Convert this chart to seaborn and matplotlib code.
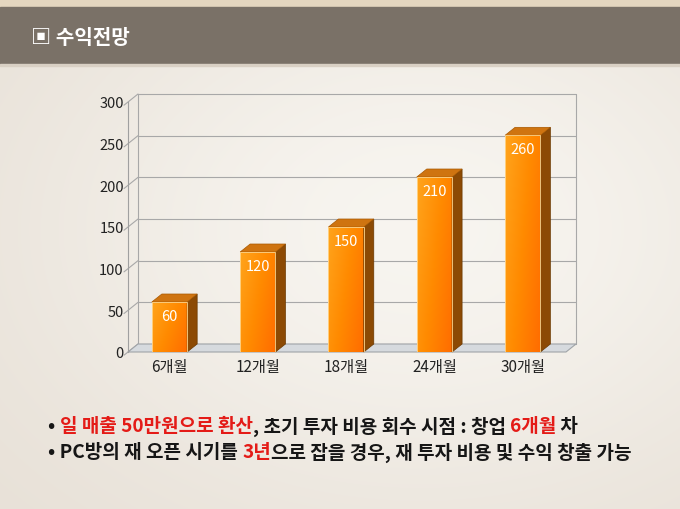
import numpy as np
import pandas as pd
import seaborn as sns
import matplotlib.pyplot as plt
import matplotlib.transforms as mtransforms
from matplotlib.patches import Polygon, Rectangle
from matplotlib.colors import LinearSegmentedColormap

# Chart data
months = ["6개월", "12개월", "18개월", "24개월", "30개월"]
revenue = [60, 120, 150, 210, 260]
y_ticks = [0, 50, 100, 150, 200, 250, 300]

title = "▣ 수익전망"
note1 = [("• ", "k"), ("일 매출 50만원으로 환산", "r"),
         (", 초기 투자 비용 회수 시점 : 창업 ", "k"), ("6개월", "r"), (" 차", "k")]
note2 = [("• PC방의 재 오픈 시기를 ", "k"), ("3년", "r"),
         ("으로 잡을 경우, 재 투자 비용 및 수익 창출 가능", "k")]

sns.set_theme(style="white")
plt.rcParams['font.family'] = ['Noto Sans CJK KR', 'DejaVu Sans']

fig = plt.figure(figsize=(6.8, 5.1), dpi=100)

# slide background
bg = fig.add_axes([0, 0, 1, 1], zorder=-5)
bg.set_xlim(0, 680)
bg.set_ylim(510, 0)
bg.axis("off")
yy, xx = np.mgrid[0:510, 0:680]
shade = np.exp(-(((xx - 420) / 420.0) ** 2 + ((yy - 230) / 300.0) ** 2))
base = np.array([0.90, 0.87, 0.83])
light = np.array([0.97, 0.96, 0.94])
img = base + (light - base) * shade[..., None]
bg.imshow(img, extent=(0, 680, 510, 0), aspect="auto")
bg.add_patch(Rectangle((0, 0), 680, 8, color="#e4d6bf"))
bg.add_patch(Rectangle((0, 8), 680, 57, color="#7a7167"))
bg.add_patch(Rectangle((0, 65), 680, 2, color="#d9d0c4"))
bg.text(31, 38, title, color="white", fontsize=14.5, fontweight="bold",
        va="center", ha="left")

# chart (front plane)
ax = fig.add_axes([128 / 680, 157 / 510, 438 / 680, 250 / 510])
ax.patch.set_alpha(0)
df = pd.DataFrame({"month": months, "revenue": revenue})
sns.barplot(data=df, x="month", y="revenue", ax=ax, width=0.4,
            color="#ff8a00", saturation=1, edgecolor="#ffd890", linewidth=0.6,
            zorder=3)
ax.set_xlim(-0.47, 4.49)
ax.set_ylim(0, 300)
ax.set_yticks(y_ticks)
ax.set_xlabel("")
ax.set_ylabel("")
ax.tick_params(axis="y", labelsize=10.5, colors="#222222", pad=3, length=0)
ax.tick_params(axis="x", labelsize=11, colors="#222222", pad=4, length=0)
for s in ["top", "right", "bottom"]:
    ax.spines[s].set_visible(False)
ax.spines["left"].set_color("#a0a0a0")
ax.spines["left"].set_linewidth(0.8)

# depth offset (pixels -> data units)
depth_px = (10, 8)
back = mtransforms.offset_copy(ax.transData, fig=fig, x=depth_px[0],
                               y=depth_px[1], units="dots")
x_per_px = (ax.get_xlim()[1] - ax.get_xlim()[0]) / 438.0
y_per_px = 300 / 250.0
ddx = depth_px[0] * x_per_px
ddy = depth_px[1] * y_per_px
x0, x1 = ax.get_xlim()

# back wall with gridlines + left wall diagonals
for t in y_ticks:
    ax.plot([x0, x1], [t, t], color="#a8a8a8", lw=0.8, transform=back,
            zorder=1, clip_on=False)
    ax.plot([x0 - 0.4 * ddx, x0 + ddx], [t - 0.4 * ddy, t + ddy],
            color="#a8a8a8", lw=0.8, zorder=1, clip_on=False)
ax.plot([x1, x1], [0, 300], color="#a8a8a8", lw=0.8, transform=back,
        zorder=1, clip_on=False)
ax.plot([x0, x0], [0, 300], color="#a8a8a8", lw=0.8, transform=back,
        zorder=1, clip_on=False)

# floor
floor = Polygon([(x0, 0), (x1, 0), (x1 + ddx, ddy), (x0 + ddx, ddy)],
                closed=True, facecolor="#d6dade", edgecolor="#a0a4a8",
                lw=0.8, zorder=2, clip_on=False)
ax.add_patch(floor)

# 3D faces and gradient for the bars
cmap = LinearSegmentedColormap.from_list("orng", ["#ffa41c", "#ff8a00", "#ff6c00"])
gx, gy = np.meshgrid(np.linspace(0, 1, 50), np.linspace(0, 1, 50))
grad = 0.65 * gx + 0.35 * gy
for bar, val in zip(ax.patches, revenue):
    bx, bw, bh = bar.get_x(), bar.get_width(), bar.get_height()
    im = ax.imshow(grad, cmap=cmap, extent=(bx, bx + bw, 0, bh),
                   aspect="auto", origin="upper", zorder=3.5)
    im.set_clip_path(bar)
    side = Polygon([(bx + bw, 0), (bx + bw + ddx, ddy),
                    (bx + bw + ddx, bh + ddy), (bx + bw, bh)],
                   closed=True, facecolor="#8c4a04", edgecolor="#6a3800",
                   lw=0.5, zorder=4, clip_on=False)
    top = Polygon([(bx, bh), (bx + bw, bh), (bx + bw + ddx, bh + ddy),
                   (bx + ddx, bh + ddy)],
                  closed=True, facecolor="#cf7410", edgecolor="#a85800",
                  lw=0.5, zorder=4, clip_on=False)
    ax.add_patch(side)
    ax.add_patch(top)
    ax.annotate(str(val), (bx + bw / 2, bh), xytext=(0, -10),
                textcoords="offset points", ha="center", va="center",
                color="white", fontsize=10.5, zorder=6)
for bar in ax.patches[:len(revenue)]:
    bar.set_zorder(5)
    bar.set_facecolor("none")

# notes under the chart
colors = {"k": "#161616", "r": "#e41b17"}
renderer = fig.canvas.get_renderer()


def draw_line(parts, x, y):
    for txt, c in parts:
        t = bg.text(x, y, txt, color=colors[c], fontsize=13.7, fontweight="bold",
                    va="center", ha="left")
        ext = t.get_window_extent(renderer=renderer)
        x += ext.width


draw_line(note1, 48, 427)
draw_line(note2, 48, 453)

fig.savefig("out.png", dpi=100)
